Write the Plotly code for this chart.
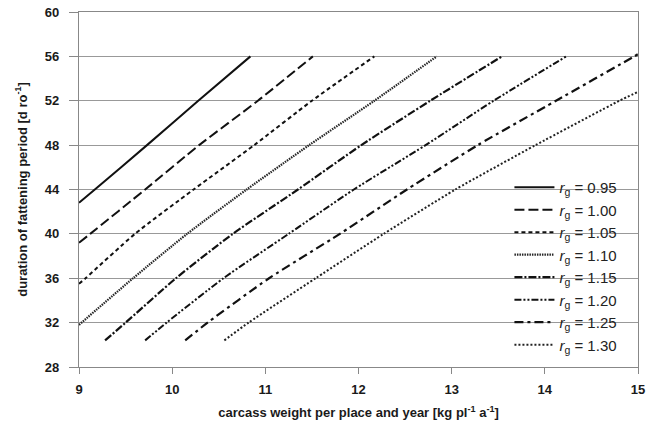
import plotly.graph_objects as go

rg_labels = ["0.95", "1.00", "1.05", "1.10", "1.15", "1.20", "1.25", "1.30"]

x_095 = [9.0, 9.17, 9.73, 10.28, 10.84]
y_095 = [42.8, 44, 48, 52, 56]

x_100 = [9.0, 9.12, 9.71, 10.29, 10.92, 11.51]
y_100 = [39.2, 40, 44, 48, 52, 56]

x_105 = [9.0, 9.07, 9.60, 10.23, 10.88, 11.50, 12.17]
y_105 = [35.5, 36, 40, 44, 48, 52, 56]

x_110 = [9.0, 9.58, 10.16, 10.80, 11.47, 12.17, 12.84]
y_110 = [31.8, 36, 40, 44, 48, 52, 56]

x_115 = [9.28, 9.50, 10.04, 10.65, 11.35, 12.03, 12.77, 13.54]
y_115 = [30.4, 32, 36, 40, 44, 48, 52, 56]

x_120 = [9.71, 9.94, 10.55, 11.25, 11.95, 12.72, 13.45, 14.23]
y_120 = [30.4, 32, 36, 40, 44, 48, 52, 56]

x_125 = [10.14, 10.38, 11.04, 11.80, 12.52, 13.28, 14.12, 14.96, 15.0]
y_125 = [30.4, 32, 36, 40, 44, 48, 52, 56, 56.2]

x_130 = [10.56, 10.82, 11.54, 12.27, 13.04, 13.90, 14.80, 15.0]
y_130 = [30.4, 32, 36, 40, 44, 48, 52, 52.8]

x_ticks = [9, 10, 11, 12, 13, 14, 15]
y_ticks = [28, 32, 36, 40, 44, 48, 52, 56, 60]

series_x = [x_095, x_100, x_105, x_110, x_115, x_120, x_125, x_130]
series_y = [y_095, y_100, y_105, y_110, y_115, y_120, y_125, y_130]

styles = [
    dict(dash="solid", width=2.0, color="#111111"),
    dict(dash="10px,4px", width=2.0, color="#111111"),
    dict(dash="4px,3px", width=2.0, color="#111111"),
    dict(dash="1.5px,1px", width=2.2, color="#262626"),
    dict(dash="8px,2px,2px,2px", width=2.2, color="#111111"),
    dict(dash="7px,2px,2px,2px,2px,2px", width=2.0, color="#111111"),
    dict(dash="9px,4px,3px,4px", width=2.2, color="#111111"),
    dict(dash="2px,2px", width=2.0, color="#222222"),
]

fig = go.Figure()
for lab, xs, ys, st in zip(rg_labels, series_x, series_y, styles):
    fig.add_trace(go.Scatter(
        x=xs, y=ys, mode="lines",
        line=dict(shape="spline", smoothing=0.6, **st),
        name=f"<i>r</i><sub>g</sub> = {lab}",
    ))

axis_font = dict(family="Liberation Sans, Arial, sans-serif", size=13, color="#1a1a1a")

fig.update_layout(
    width=648, height=427,
    margin=dict(l=79, r=10, t=12, b=60, autoexpand=False),
    paper_bgcolor="white", plot_bgcolor="white",
    showlegend=True,
    legend=dict(
        x=0.77, y=0.017, xanchor="left", yanchor="bottom",
        bgcolor="rgba(0,0,0,0)",
        font=dict(family="Liberation Sans, Arial, sans-serif", size=15, color="#222222"),
        itemwidth=40,
        tracegroupgap=0,
    ),
    font=dict(family="Liberation Sans, Arial, sans-serif"),
)

fig.update_xaxes(
    range=[9, 15], tickvals=x_ticks, ticktext=[f"<b>{v}</b>" for v in x_ticks],
    showgrid=False, showline=True, linecolor="#888888", linewidth=1.2, mirror=True,
    ticks="outside", ticklen=6, tickcolor="#888888", automargin=False,
    ticklabelstandoff=4, ticklabeloverflow="allow",
    tickfont=dict(family="Liberation Sans, Arial, sans-serif", size=13, color="#1a1a1a"),
    title=dict(text="<b>carcass weight per place and year [kg pl<sup>-1</sup> a<sup>-1</sup>]</b>",
               font=axis_font, standoff=12),
    zeroline=False,
)
fig.update_yaxes(
    range=[28, 60], tickvals=y_ticks, ticktext=[f"<b>{v}</b>" for v in y_ticks],
    showgrid=True, gridcolor="#999999", gridwidth=1.2,
    showline=True, linecolor="#888888", linewidth=1.2, mirror=True,
    ticks="outside", ticklen=9, tickcolor="#888888", automargin=False,
    ticklabelstandoff=7, ticklabeloverflow="allow",
    tickfont=dict(family="Liberation Sans, Arial, sans-serif", size=13, color="#1a1a1a"),
    title=dict(text="<b>duration of fattening period [d ro<sup>-1</sup>]</b>",
               font=axis_font, standoff=14),
    zeroline=False,
)

# remove the browser's default 8px body margin so the figure fills the window exactly
fig.write_html(
    "out.html",
    config={"displayModeBar": False},
    post_script="document.body.style.margin='0';document.body.style.overflow='hidden';",
)
